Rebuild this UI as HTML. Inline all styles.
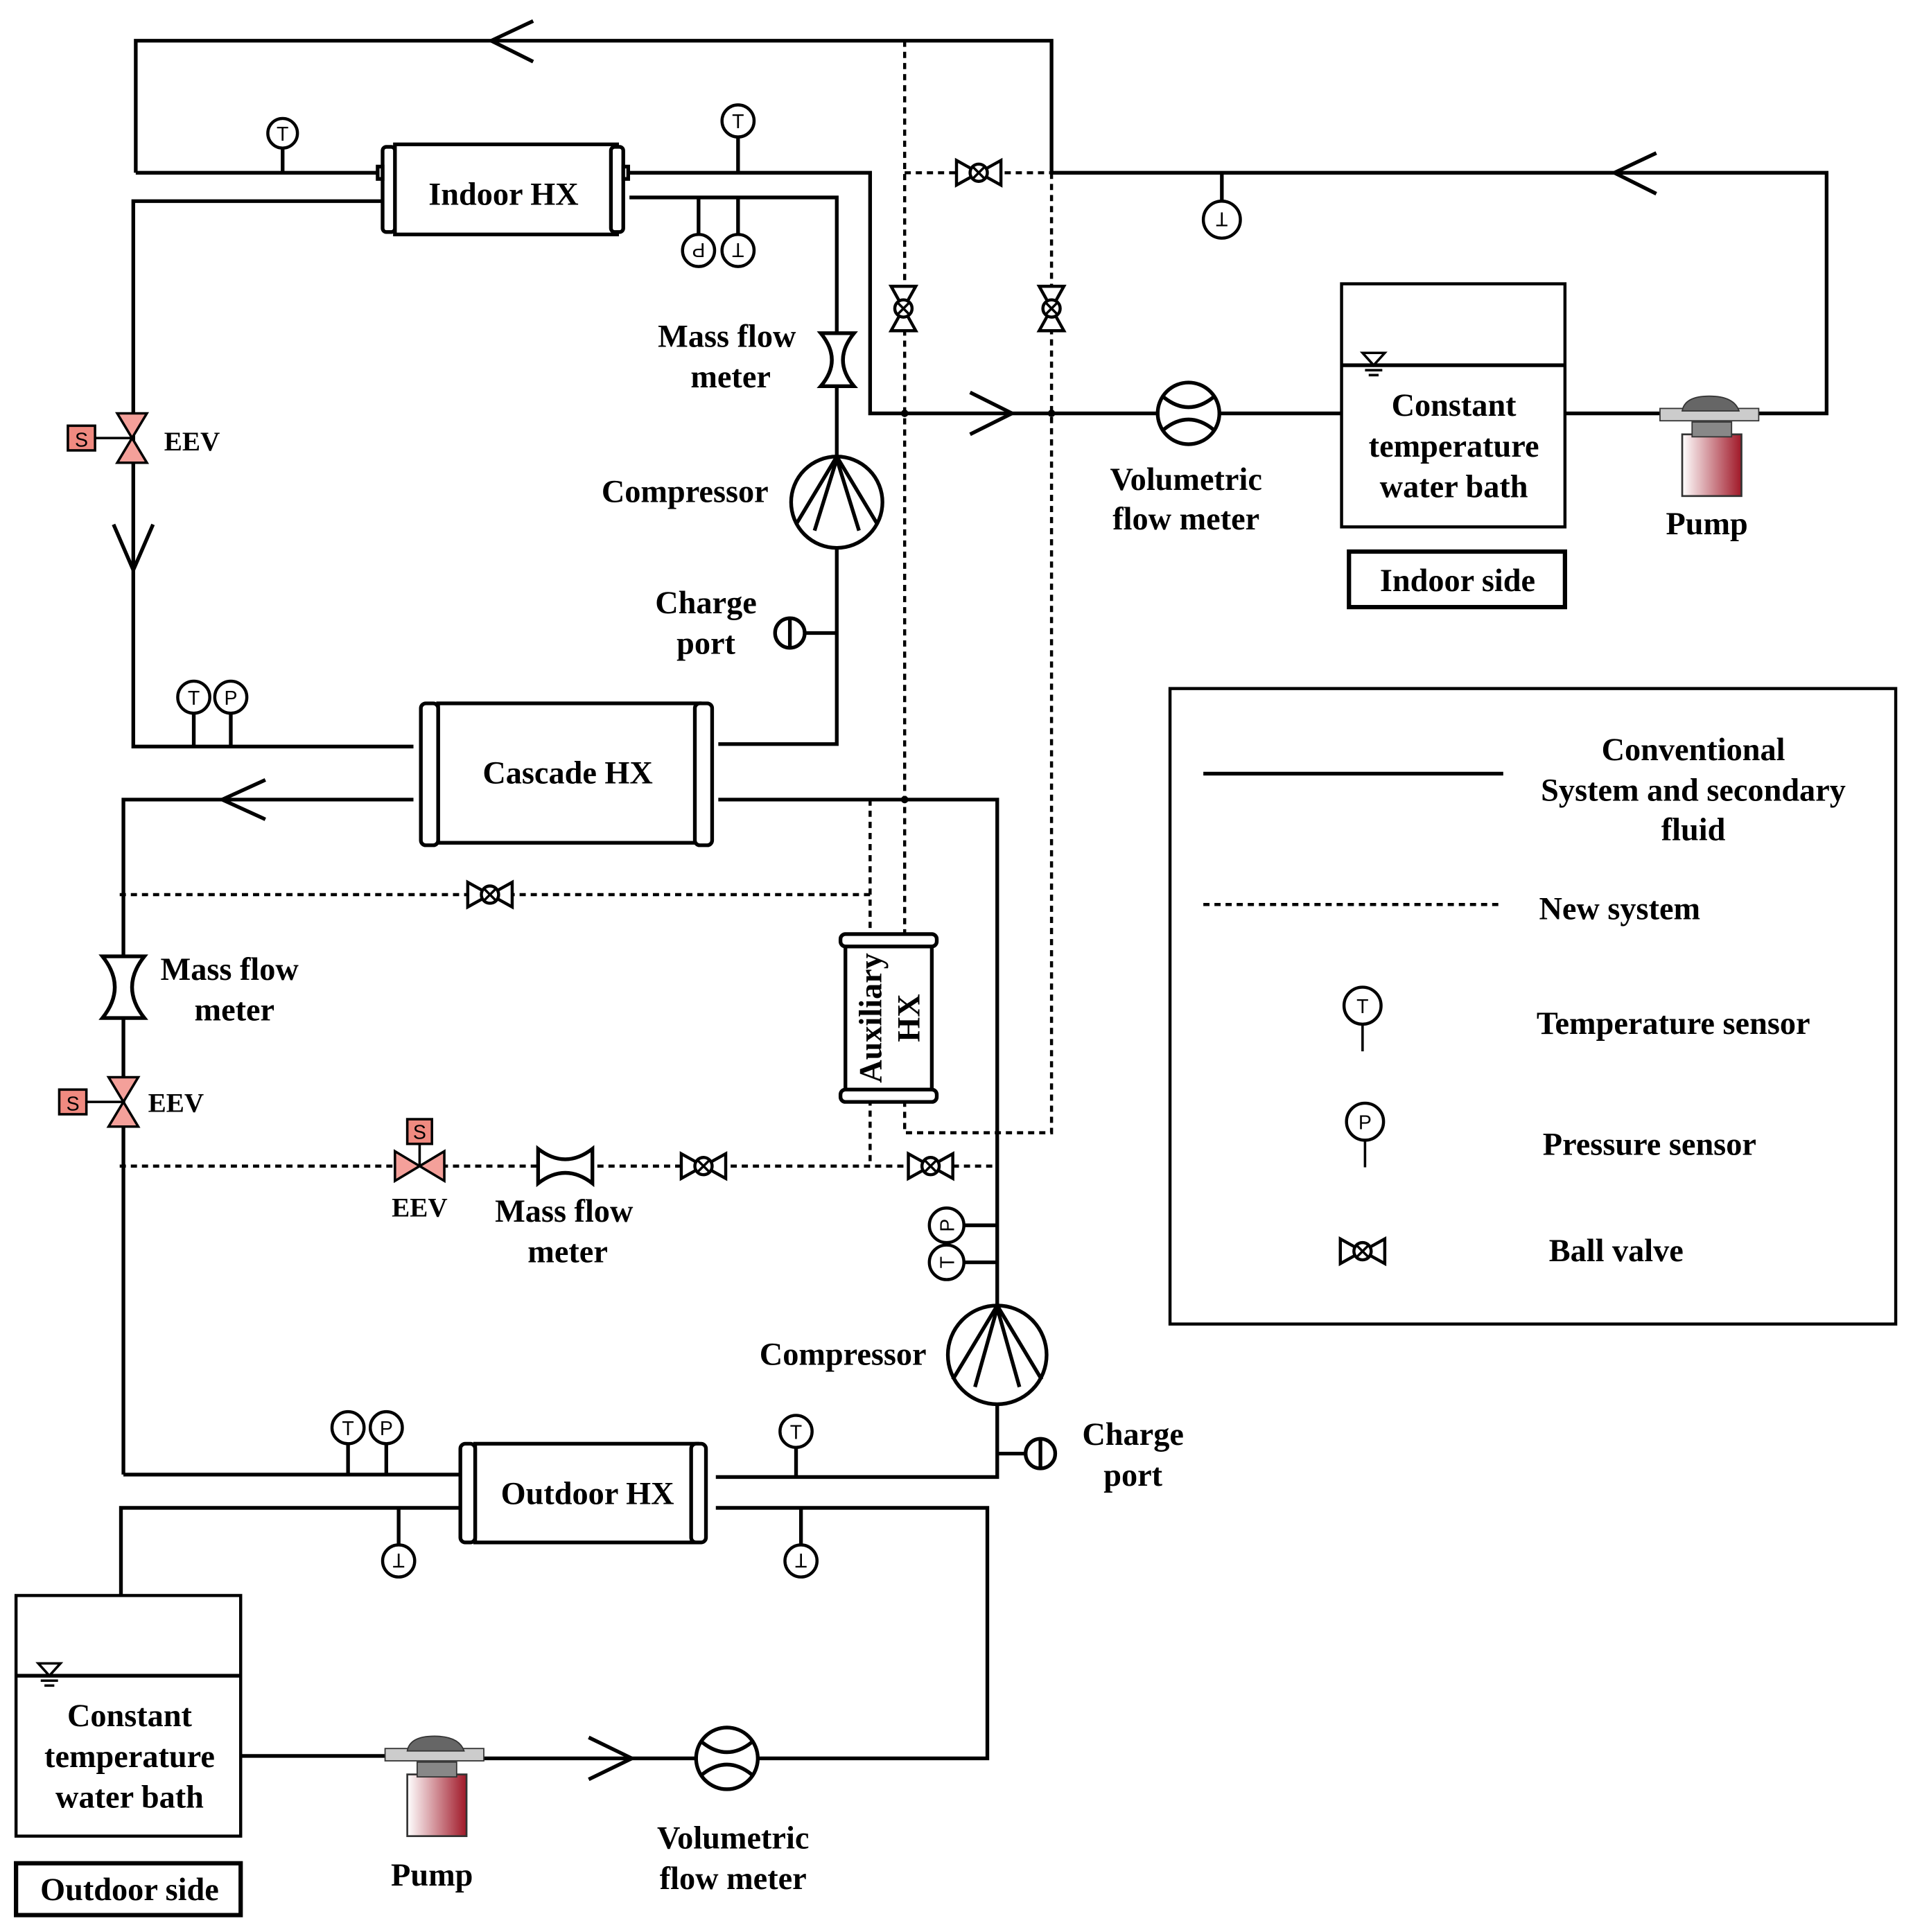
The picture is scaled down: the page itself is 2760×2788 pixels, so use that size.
<!DOCTYPE html>
<html><head><meta charset="utf-8"><style>
html,body{margin:0;padding:0;background:#fff}
svg{display:block}
.lb{font-family:"Liberation Serif",serif;font-weight:bold;font-size:26px;fill:#000}
.sn{font-family:"Liberation Sans",sans-serif;font-weight:normal;font-size:16px;fill:#000}
</style></head><body>
<svg width="2760" height="2788" viewBox="0 0 1550 1565.7" preserveAspectRatio="none" xmlns="http://www.w3.org/2000/svg">
<defs>
<linearGradient id="pg" x1="0" x2="1"><stop offset="0" stop-color="#fff"/><stop offset="1" stop-color="#a01828"/></linearGradient>
<g id="bv"><path d="M-18,-10 L18,10 L18,-10 L-18,10 Z" fill="#fff" stroke="#000" stroke-width="2.5"/><circle r="7" fill="#fff" stroke="#000" stroke-width="2.5"/><path d="M-5,-5 L5,5 M-5,5 L5,-5" stroke="#000" stroke-width="2"/></g>
<g id="pump"><rect x="-22" y="15" width="48" height="50" fill="url(#pg)" stroke="#333" stroke-width="1.5"/><rect x="-14" y="5" width="32" height="12" fill="#888" stroke="#333"/><rect x="-40" y="-6" width="80" height="10" fill="#ccc" stroke="#333"/><path d="M-22,-4 Q-20,-16 0,-16 Q20,-16 24,-4 Z" fill="#666" stroke="#333"/></g>
<g id="eev"><path d="M-12,-20 L12,-20 L-12,20 L12,20 Z" fill="#f4a09a" stroke="#000" stroke-width="2"/><line x1="0" y1="0" x2="-30" y2="0" stroke="#000" stroke-width="2"/><rect x="-52" y="-10" width="22" height="20" fill="#f08a80" stroke="#000" stroke-width="2"/><text x="-41" y="7" class="sn" text-anchor="middle">S</text></g>
</defs>
<g fill="none" stroke="#000" stroke-width="3">
<polyline points="110,140 110,33 852,33 852,140"/>
<polyline points="432,17 398,33 432,50"/>
<line x1="110" y1="140" x2="310" y2="140"/>
<line x1="229" y1="120" x2="229" y2="140"/>
<polyline points="510,140 705,140 705,335 1087,335"/>
<line x1="598" y1="110" x2="598" y2="140"/>
<polyline points="510,160 678,160 678,270"/>
<line x1="566" y1="160" x2="566" y2="191"/><line x1="598" y1="160" x2="598" y2="191"/>
<line x1="678" y1="313" x2="678" y2="370"/>
<polyline points="678,444 678,603 582,603"/>
<line x1="652" y1="513" x2="678" y2="513"/>
<polyline points="310,163 108,163 108,605 335,605"/>
<polyline points="92,425 108,462 124,425"/>
<line x1="157" y1="577" x2="157" y2="605"/><line x1="187" y1="577" x2="187" y2="605"/>
<polyline points="335,648 100,648 100,775"/>
<polyline points="215,632 180,648 215,664"/>
<polyline points="582,648 808,648 808,1058"/>
<line x1="100" y1="825" x2="100" y2="1195"/>
<line x1="100" y1="1195" x2="372" y2="1195"/>
<polyline points="808,1138 808,1197 580,1197"/>
<line x1="780" y1="993" x2="808" y2="993"/><line x1="780" y1="1023" x2="808" y2="1023"/>
<line x1="808" y1="1178" x2="831" y2="1178"/>
<line x1="282" y1="1169" x2="282" y2="1195"/><line x1="313" y1="1169" x2="313" y2="1195"/>
<line x1="645" y1="1172" x2="645" y2="1197"/>
<polyline points="372,1222 98,1222 98,1293"/>
<polyline points="580,1222 800,1222 800,1425 614,1425"/>
<line x1="323" y1="1222" x2="323" y2="1253"/><line x1="649" y1="1222" x2="649" y2="1253"/>
<line x1="196" y1="1423" x2="312" y2="1423"/><line x1="390" y1="1425" x2="564" y2="1425"/>
<polyline points="477,1408 512,1425 477,1442"/>
<polyline points="852,140 1480,140 1480,335 1268,335"/>
<polyline points="1342,124 1308,140 1342,157"/>
<line x1="990" y1="140" x2="990" y2="163"/>
<polyline points="786,318 820,335 786,352"/>
<rect x="1087" y="230" width="181" height="197" stroke-width="2.5"/><line x1="1087" y1="296" x2="1268" y2="296"/>
<rect x="1093" y="447" width="175" height="45" stroke-width="3.5"/>
<rect x="13" y="1293" width="182" height="195" stroke-width="2.5"/><line x1="13" y1="1358" x2="195" y2="1358"/>
<rect x="13" y="1510" width="182" height="42" stroke-width="3.5"/>
<rect x="948" y="558" width="588" height="515" stroke-width="2.5"/>
<line x1="975" y1="627" x2="1218" y2="627"/>
<line x1="975" y1="733" x2="1218" y2="733" stroke-dasharray="5,4" stroke-width="2.5"/>
<line x1="1104" y1="830" x2="1104" y2="852" stroke-width="2"/>
<line x1="1106" y1="924" x2="1106" y2="946" stroke-width="2"/>
</g>
<g fill="none" stroke="#000" stroke-width="2.5" stroke-dasharray="5,4">
<line x1="733" y1="33" x2="733" y2="758"/>
<polyline points="852,140 852,918 733,918 733,893"/>
<line x1="733" y1="140" x2="852" y2="140"/>
<line x1="97" y1="725" x2="705" y2="725"/>
<line x1="705" y1="648" x2="705" y2="945"/>
<line x1="97" y1="945" x2="808" y2="945"/>
</g>
<g fill="#000"><circle cx="733" cy="335" r="3"/><circle cx="852" cy="335" r="3"/><circle cx="733" cy="648" r="3"/></g>
<g fill="#fff" stroke="#000" stroke-width="3">
<rect x="320" y="117" width="180" height="73"/>
<rect x="310" y="119" width="10" height="69" rx="3"/><rect x="495" y="119" width="10" height="69" rx="3"/>
<rect x="306" y="135" width="4" height="10"/><rect x="505" y="135" width="4" height="10"/>
<rect x="355" y="570" width="212" height="113"/>
<rect x="341" y="570" width="14" height="115" rx="4"/><rect x="563" y="570" width="14" height="115" rx="4"/>
<rect x="385" y="1170" width="180" height="80"/>
<rect x="373" y="1170" width="12" height="80" rx="4"/><rect x="560" y="1170" width="12" height="80" rx="4"/>
<rect x="685" y="765" width="70" height="120"/>
<rect x="681" y="757" width="78" height="10" rx="4"/><rect x="681" y="883" width="78" height="10" rx="4"/>
<circle cx="678" cy="407" r="37"/><polyline points="645,425 678,370 711,425" fill="none"/><polyline points="660,430 678,372 696,430" fill="none"/>
<circle cx="808" cy="1098" r="40"/><polyline points="772,1118 808,1058 844,1118" fill="none"/><polyline points="790,1124 808,1060 826,1124" fill="none"/>
<circle cx="963" cy="335" r="25"/><path d="M943,322 Q963,338 983,322 M943,348 Q963,332 983,348" fill="none"/>
<circle cx="589" cy="1425" r="25"/><path d="M569,1412 Q589,1428 609,1412 M569,1438 Q589,1422 609,1438" fill="none"/>
<path d="M665,270 L692,270 Q674,292 692,313 L665,313 Q683,292 665,270 Z"/>
<path d="M83,775 L117,775 Q97,800 117,825 L83,825 Q103,800 83,775 Z"/>
<path d="M436,931 Q458,948 480,931 L480,959 Q458,942 436,959 Z"/>
<circle cx="640" cy="513" r="12"/><circle cx="843" cy="1178" r="12"/>
</g>
<g stroke="#000" stroke-width="3"><line x1="640" y1="501" x2="640" y2="525"/><line x1="843" y1="1166" x2="843" y2="1190"/></g>
<use href="#bv" x="793" y="140"/><use href="#bv" x="397" y="725"/><use href="#bv" x="570" y="945"/><use href="#bv" x="754" y="945"/>
<use href="#bv" x="1104" y="1014"/>
<g transform="translate(732,250) rotate(90)"><use href="#bv"/></g>
<g transform="translate(852,250) rotate(90)"><use href="#bv"/></g>
<use href="#eev" x="107" y="355"/><use href="#eev" x="100" y="893"/>
<g transform="translate(340,945) rotate(90)"><path d="M-12,-20 L12,-20 L-12,20 L12,20 Z" fill="#f4a09a" stroke="#000" stroke-width="2"/><line x1="0" y1="0" x2="-20" y2="0" stroke="#000" stroke-width="2"/><rect x="-38" y="-10" width="20" height="20" fill="#f08a80" stroke="#000" stroke-width="2"/></g>
<text x="340" y="923" class="sn" text-anchor="middle">S</text>
<use href="#pump" x="1385" y="337"/><use href="#pump" x="352" y="1423"/>
<g fill="#fff" stroke="#000" stroke-width="2.5">
<circle cx="229" cy="108" r="12"/><circle cx="598" cy="98" r="13"/><circle cx="566" cy="203" r="13"/><circle cx="598" cy="203" r="13"/>
<circle cx="990" cy="178" r="15"/><circle cx="157" cy="565" r="13"/><circle cx="187" cy="565" r="13"/>
<circle cx="767" cy="993" r="14"/><circle cx="767" cy="1023" r="14"/>
<circle cx="282" cy="1157" r="13"/><circle cx="313" cy="1157" r="13"/><circle cx="645" cy="1160" r="13"/>
<circle cx="323" cy="1265" r="13"/><circle cx="649" cy="1265" r="13"/>
<circle cx="1104" cy="815" r="15"/><circle cx="1106" cy="909" r="15"/>
</g>
<g class="sn" text-anchor="middle">
<text class="sn" x="229" y="114">T</text><text class="sn" x="598" y="104">T</text>
<text class="sn" x="157" y="571">T</text><text class="sn" x="187" y="571">P</text>
<text class="sn" x="282" y="1163">T</text><text class="sn" x="313" y="1163">P</text><text class="sn" x="645" y="1166">T</text>
<text class="sn" x="1104" y="821">T</text><text class="sn" x="1106" y="915">P</text>
<text class="sn" transform="translate(566,203) rotate(180)" y="6">P</text>
<text class="sn" transform="translate(598,203) rotate(180)" y="6">T</text>
<text class="sn" transform="translate(990,178) rotate(180)" y="6">T</text>
<text class="sn" transform="translate(323,1265) rotate(180)" y="6">T</text>
<text class="sn" transform="translate(649,1265) rotate(180)" y="6">T</text>
<text class="sn" transform="translate(767,993) rotate(-90)" y="6">P</text>
<text class="sn" transform="translate(767,1023) rotate(-90)" y="6">T</text>
</g>
<g stroke="#000" stroke-width="2" fill="none">
<path d="M1104,286 L1122,286 L1113,296 Z M1106,300 L1120,300 M1109,304 L1117,304"/>
<path d="M31,1348 L49,1348 L40,1358 Z M33,1362 L47,1362 M36,1366 L44,1366"/>
</g>
<g class="lb" text-anchor="middle">
<text class="lb" x="408" y="166">Indoor HX</text>
<text class="lb" x="460" y="635">Cascade HX</text>
<text class="lb" x="476" y="1219">Outdoor HX</text>
<text class="lb" x="589" y="281">Mass flow</text><text class="lb" x="592" y="314">meter</text>
<text class="lb" x="555" y="407">Compressor</text>
<text class="lb" x="572" y="497">Charge</text><text class="lb" x="572" y="530">port</text>
<text class="lb" x="961" y="397">Volumetric</text><text class="lb" x="961" y="429">flow meter</text>
<text class="lb" x="1178" y="337">Constant</text><text class="lb" x="1178" y="370">temperature</text><text class="lb" x="1178" y="403">water bath</text>
<text class="lb" x="1383" y="433">Pump</text>
<text class="lb" x="1181" y="479">Indoor side</text>
<text class="lb" x="186" y="794">Mass flow</text><text class="lb" x="190" y="827">meter</text>
<text class="lb" x="340" y="986" style="font-size:22px">EEV</text>
<text class="lb" x="457" y="990">Mass flow</text><text class="lb" x="460" y="1023">meter</text>
<text class="lb" x="683" y="1106">Compressor</text>
<text class="lb" x="918" y="1171">Charge</text><text class="lb" x="918" y="1204">port</text>
<text class="lb" x="105" y="1399">Constant</text><text class="lb" x="105" y="1432">temperature</text><text class="lb" x="105" y="1465">water bath</text>
<text class="lb" x="105" y="1540">Outdoor side</text>
<text class="lb" x="350" y="1528">Pump</text>
<text class="lb" x="594" y="1498">Volumetric</text><text class="lb" x="594" y="1531">flow meter</text>
<text class="lb" x="1372" y="616">Conventional</text><text class="lb" x="1372" y="649">System and secondary</text><text class="lb" x="1372" y="681">fluid</text>
</g>
<text class="lb" x="133" y="365" style="font-size:22px">EEV</text>
<text class="lb" x="120" y="901" style="font-size:22px">EEV</text>
<text class="lb" x="1247" y="745">New system</text>
<text class="lb" x="1245" y="838">Temperature sensor</text>
<text class="lb" x="1250" y="936">Pressure sensor</text>
<text class="lb" x="1255" y="1022">Ball valve</text>
<text class="lb" transform="translate(714,825) rotate(-90)" text-anchor="middle">Auxiliary</text>
<text class="lb" transform="translate(745,825) rotate(-90)" text-anchor="middle">HX</text>
</svg>
</body></html>
